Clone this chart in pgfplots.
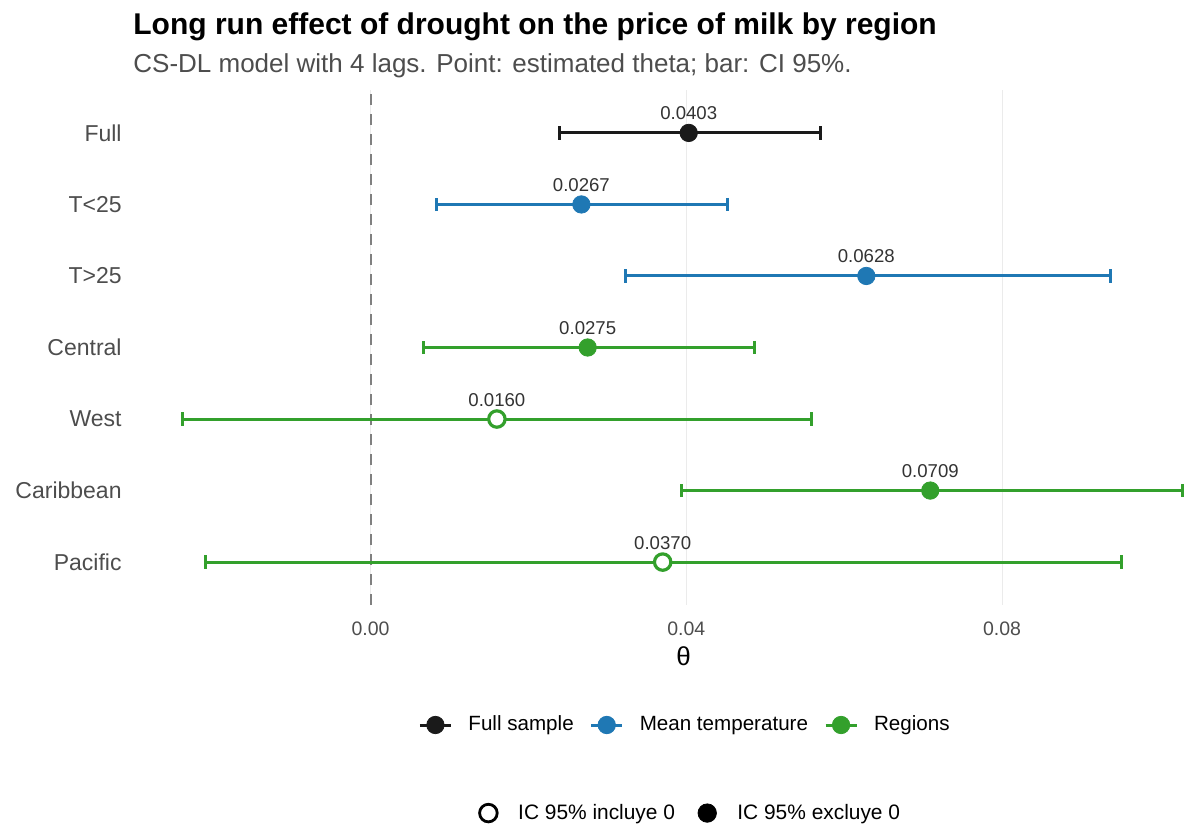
\documentclass[border=0pt]{standalone}
\usepackage{pgfplots}
\usepackage{pgfplotstable}
\pgfplotsset{compat=1.18}
\usepackage{fontspec}
\setmainfont{Liberation Sans}
\definecolor{cblack}{HTML}{1A1A1A}
\definecolor{cblue}{HTML}{1F78B4}
\definecolor{cgreen}{HTML}{33A02C}
\definecolor{ctext}{HTML}{333333}
\definecolor{cgray}{HTML}{4D4D4D}
\definecolor{cgrid}{HTML}{EBEBEB}
\definecolor{cdash}{HTML}{808080}

\pgfplotstableread{
y est lo hi lab
7 0.0403 0.0239 0.0570 0.0403
}\full
\pgfplotstableread{
y est lo hi lab
6 0.0267 0.0084 0.0452 0.0267
5 0.0628 0.0323 0.0937 0.0628
}\temp
\pgfplotstableread{
y est lo hi lab
4 0.0275 0.0067 0.0486 0.0275
2 0.0709 0.0394 0.1029 0.0709
}\regfill
\pgfplotstableread{
y est lo hi lab
3 0.0160 -0.0238 0.0558 0.0160
1 0.0370 -0.0209 0.0951 0.0370
}\regopen

\pgfplotsset{
  common/.style={
    at={(66.5pt,110pt)}, anchor=south west,
    scale only axis, width=527.3pt, height=257.5pt,
    xmin=-0.0301, xmax=0.1035, ymin=0.4, ymax=7.6,
  },
  ci/.style={
    only marks, mark=*, mark size=4.35pt,
    error bars/x dir=both, error bars/x explicit,
    error bars/error mark=|,
    error bars/error bar style={line width=1.5pt},
    error bars/error mark options={line width=1.5pt, mark size=3.3pt},
  },
  lbl/.style={
    nodes near coords, point meta=explicit symbolic,
    every node near coord/.append style={anchor=base, inner sep=0pt, yshift=6.5pt,
      text=ctext, font=\fontsize{9.3}{11}\selectfont},
  },
}

\begin{document}
\begin{tikzpicture}
\useasboundingbox (0,0) rectangle (593pt,412.5pt);
\node[anchor=base west, inner sep=0pt, font=\fontsize{15}{18}\selectfont\bfseries] at (66.5pt,395pt)
  {Long run effect of drought on the price of milk by region};
\node[anchor=base west, inner sep=0pt, text=cgray, font=\fontsize{13}{16}\selectfont] at (66.5pt,376pt)
  {CS-DL model with 4 lags. Point: estimated theta; bar: CI 95\%.};

\begin{axis}[common,
  axis line style={draw=none},
  major tick length=0pt,
  xtick={0,0.04,0.08}, xticklabels={0.00,0.04,0.08},
  ytick={1,2,3,4,5,6,7},
  yticklabels={Pacific,Caribbean,West,Central,T>25,T<25,Full},
  xmajorgrids, grid style={color=cgrid, line width=0.6pt},
  xticklabel style={inner sep=0pt, yshift=-8pt, text=cgray, font=\fontsize{9.75}{11}\selectfont},
  yticklabel style={inner sep=0pt, xshift=-5.5pt, text=cgray, font=\fontsize{11.5}{13}\selectfont},
  /pgf/number format/assume math mode=true,
  xlabel={θ},
  xlabel style={at={(axis description cs:0.522,-0.1184)}, anchor=base, inner sep=0pt,
    font=\fontsize{13}{15}\selectfont},
  legend style={at={(0.5225,-0.233)}, anchor=center, draw=none, fill=none,
    legend columns=3, font=\fontsize{10.3}{12}\selectfont,
    nodes={inner sep=0pt},
    /tikz/every odd column/.append style={column sep=8pt},
    /tikz/every even column/.append style={column sep=8pt}},
  legend image code/.code={
    \draw[#1, line width=1.5pt] (0pt,0pt) -- (15.5pt,0pt);
    \draw[#1] plot coordinates {(7.75pt,0pt)};},
]
\addplot[cdash, line width=1.1pt, dash pattern=on 5.5pt off 4.5pt, forget plot]
  coordinates {(0,0.4) (0,7.6)};

\addplot[cblack, ci, lbl] table[x=est, y=y,
  x error minus expr=\thisrow{est}-\thisrow{lo},
  x error plus expr=\thisrow{hi}-\thisrow{est}, meta=lab] {\full};
\addlegendentry{Full sample}
\addplot[cblue, ci, lbl] table[x=est, y=y,
  x error minus expr=\thisrow{est}-\thisrow{lo},
  x error plus expr=\thisrow{hi}-\thisrow{est}, meta=lab] {\temp};
\addlegendentry{Mean temperature}
\addplot[cgreen, ci, lbl] table[x=est, y=y,
  x error minus expr=\thisrow{est}-\thisrow{lo},
  x error plus expr=\thisrow{hi}-\thisrow{est}, meta=lab] {\regfill};
\addlegendentry{Regions}
\addplot[cgreen, ci, lbl, mark options={fill=white, draw=cgreen, line width=1.6pt, mark size=4.1pt}, forget plot]
  table[x=est, y=y,
  x error minus expr=\thisrow{est}-\thisrow{lo},
  x error plus expr=\thisrow{hi}-\thisrow{est}, meta=lab] {\regopen};
\end{axis}

\begin{axis}[common, hide axis,
  legend style={at={(0.528,-0.404)}, anchor=center, draw=none, fill=none,
    legend columns=2, font=\fontsize{10.45}{12}\selectfont,
    nodes={inner sep=0pt},
    /tikz/every odd column/.append style={column sep=10.5pt},
    /tikz/every even column/.append style={column sep=11.5pt}},
]
\addlegendimage{only marks, mark=*, mark size=4.4pt, mark options={fill=white, draw=black, line width=1.4pt}}
\addlegendentry{IC 95\% incluye 0}
\addlegendimage{only marks, mark=*, mark size=4.6pt, black}
\addlegendentry{IC 95\% excluye 0}
\end{axis}
\end{tikzpicture}
\end{document}
